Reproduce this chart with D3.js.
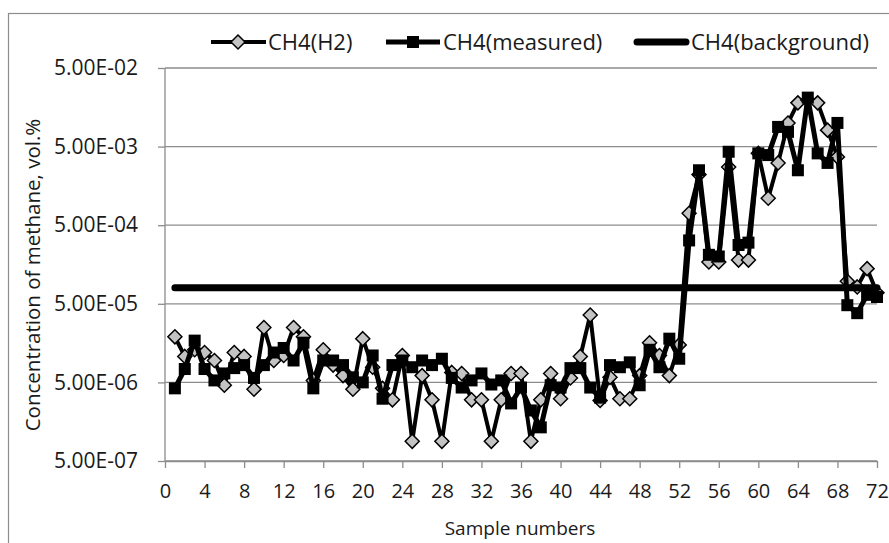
<!DOCTYPE html>
<html>
<head>
<meta charset="utf-8">
<script src="https://cdn.jsdelivr.net/npm/d3@7"></script>
<style>
  body { margin: 0; background: #fff; }
  text { font-family: "Open Sans", "Noto Sans", sans-serif; fill: #1a1a1a; }
</style>
</head>
<body>
<div id="chart"></div>
<script>
// Chart size and plot box
const width = 889;
const height = 543;
const margin = {left: 165, right: 12, top: 68, bottom: 82};

// Sample numbers 1..72
const samples = d3.range(1, 73);

// CH4 computed from H2 (diamonds)
const ch4H2 = [
  1.9e-5, 1.07e-5, 1.3e-5, 1.2e-5, 9.5e-6, 4.6e-6, 1.2e-5, 1.07e-5, 4.1e-6, 2.5e-5,
  9.5e-6, 1.1e-5, 2.5e-5, 1.9e-5, 5.3e-6, 1.3e-5, 8.3e-6, 6.1e-6, 4.1e-6, 1.8e-5,
  7.8e-6, 4.2e-6, 3.0e-6, 1.1e-5, 8.9e-7, 6.1e-6, 3.0e-6, 8.9e-7, 6.7e-6, 6.5e-6,
  3.0e-6, 3.0e-6, 8.9e-7, 3.0e-6, 6.5e-6, 6.5e-6, 8.9e-7, 3.0e-6, 6.5e-6, 3.1e-6,
  5.7e-6, 1.07e-5, 3.6e-5, 2.95e-6, 5.8e-6, 3.1e-6, 3.1e-6, 6.1e-6, 1.6e-5, 1.1e-5,
  6.1e-6, 1.5e-5, 7.1e-4, 2.2e-3, 1.7e-4, 1.7e-4, 2.75e-3, 1.8e-4, 1.8e-4, 4.1e-3,
  1.1e-3, 3.1e-3, 1.0e-2, 1.8e-2, 1.96e-2, 1.8e-2, 8.1e-3, 3.7e-3, 9.7e-5, 8.2e-5,
  1.4e-4, 6.9e-5
];

// CH4 measured (squares)
const ch4Measured = [
  4.2e-6, 7.4e-6, 1.7e-5, 7.4e-6, 5.3e-6, 6.5e-6, 7.6e-6, 8.3e-6, 5.7e-6, 8.3e-6,
  1.2e-5, 1.37e-5, 9.5e-6, 1.6e-5, 4.2e-6, 9.5e-6, 9.5e-6, 8.3e-6, 5.8e-6, 5.0e-6,
  1.1e-5, 3.1e-6, 8.3e-6, 9.5e-6, 7.8e-6, 9.5e-6, 8.3e-6, 1.0e-5, 5.7e-6, 4.3e-6,
  5.3e-6, 6.5e-6, 4.7e-6, 5.3e-6, 2.7e-6, 4.3e-6, 2.2e-6, 1.34e-6, 4.6e-6, 4.3e-6,
  7.6e-6, 7.6e-6, 4.3e-6, 3.2e-6, 8.3e-6, 7.8e-6, 9.0e-6, 4.6e-6, 1.3e-5, 7.8e-6,
  1.8e-5, 1.0e-5, 3.2e-4, 2.5e-3, 2.1e-4, 2.0e-4, 4.3e-3, 2.8e-4, 3.0e-4, 4.1e-3,
  3.9e-3, 8.9e-3, 7.7e-3, 2.5e-3, 2.1e-2, 4.1e-3, 3.1e-3, 1.0e-2, 4.8e-5, 3.8e-5,
  6.5e-5, 6.1e-5
];

// CH4 background level (constant)
const ch4Background = samples.map(() => 8.0e-5);

// Axis ticks
const xTicks = d3.range(0, 73, 4);
const yTicks = [5e-7, 5e-6, 5e-5, 5e-4, 5e-3, 5e-2];

const svg = d3.select("#chart")
  .append("svg")
  .attr("width", width)
  .attr("height", height);

// outer chart border
svg.append("rect")
  .attr("x", 8.5).attr("y", 13.5)
  .attr("width", width + 20).attr("height", height + 20)
  .attr("fill", "none")
  .attr("stroke", "#8c8c8c")
  .attr("stroke-width", 1.2);

// Scales
const xScale = d3.scaleLinear()
  .domain([0, 72])
  .range([margin.left, width - margin.right]);

const yScale = d3.scaleLog()
  .domain([5e-7, 5e-2])
  .range([height - margin.bottom, margin.top]);

// Gridlines
svg.append("g")
  .selectAll("line")
  .data(yTicks)
  .enter()
  .append("line")
    .attr("x1", xScale(0))
    .attr("x2", xScale(72))
    .attr("y1", d => yScale(d))
    .attr("y2", d => yScale(d))
    .attr("stroke", "#8c8c8c")
    .attr("stroke-width", 1.3);

// Y axis
const yAxis = svg.append("g")
  .attr("transform", `translate(${xScale(0)},0)`)
  .call(d3.axisLeft(yScale)
    .tickValues(yTicks)
    .tickSize(7)
    .tickPadding(20)
    .tickFormat(d => d3.format(".2e")(d).replace("e", "E").replace(/E([+-])(\d)$/, "E$10$2")));
yAxis.selectAll("path, line").attr("stroke", "#8c8c8c").attr("stroke-width", 1.3);
yAxis.select(".domain").attr("d", `M0,${yScale(5e-7)}V${yScale(5e-2)}`);
yAxis.selectAll("text")
  .attr("font-size", "21px")
  .attr("font-family", "'Open Sans', sans-serif")
  .attr("fill", "#1a1a1a");

// X axis
const xAxis = svg.append("g")
  .attr("transform", `translate(0,${yScale(5e-7)})`)
  .call(d3.axisBottom(xScale)
    .tickValues(xTicks)
    .tickSize(7)
    .tickPadding(16)
    .tickSizeOuter(0));
xAxis.selectAll("path, line").attr("stroke", "#8c8c8c").attr("stroke-width", 1.3);
xAxis.selectAll("text")
  .attr("font-size", "20px")
  .attr("font-family", "'Open Sans', sans-serif")
  .attr("fill", "#1a1a1a");

// Axis titles
svg.append("text")
  .attr("x", 520)
  .attr("y", 535)
  .attr("text-anchor", "middle")
  .attr("font-size", "19px")
  .text("Sample numbers");

svg.append("text")
  .attr("transform", "translate(40,275) rotate(-90)")
  .attr("text-anchor", "middle")
  .attr("font-size", "20.5px")
  .text("Concentration of methane, vol.%");

// Line generator
const line = d3.line()
  .x((d, i) => xScale(samples[i]))
  .y(d => yScale(d));

const diamond = "M0,-7L7,0L0,7L-7,0Z";

// Series 1: CH4(H2)
svg.append("path")
  .datum(ch4H2)
  .attr("d", line)
  .attr("fill", "none")
  .attr("stroke", "#000")
  .attr("stroke-width", 4)
  .attr("stroke-linejoin", "round");

svg.append("g")
  .selectAll("path")
  .data(ch4H2)
  .enter()
  .append("path")
    .attr("d", diamond)
    .attr("transform", (d, i) => `translate(${xScale(samples[i])},${yScale(d)})`)
    .attr("fill", "#c3c3c3")
    .attr("stroke", "#000")
    .attr("stroke-width", 1.5);

// Series 2: CH4(measured)
svg.append("path")
  .datum(ch4Measured)
  .attr("d", line)
  .attr("fill", "none")
  .attr("stroke", "#000")
  .attr("stroke-width", 5)
  .attr("stroke-linejoin", "round");

svg.append("g")
  .selectAll("rect")
  .data(ch4Measured)
  .enter()
  .append("rect")
    .attr("x", (d, i) => xScale(samples[i]) - 6)
    .attr("y", d => yScale(d) - 6)
    .attr("width", 12)
    .attr("height", 12)
    .attr("fill", "#000");

// Series 3: CH4(background)
svg.append("path")
  .datum(ch4Background)
  .attr("d", line)
  .attr("fill", "none")
  .attr("stroke", "#000")
  .attr("stroke-width", 7)
  .attr("stroke-linecap", "round");

// Legend
const legendY = 42;
const legend = svg.append("g");

legend.append("line")
  .attr("x1", 211).attr("x2", 266).attr("y1", legendY).attr("y2", legendY)
  .attr("stroke", "#000").attr("stroke-width", 4);
legend.append("path")
  .attr("d", diamond)
  .attr("transform", `translate(238,${legendY})`)
  .attr("fill", "#c3c3c3").attr("stroke", "#000").attr("stroke-width", 1.5);
legend.append("text")
  .attr("x", 268).attr("y", legendY + 8)
  .attr("font-size", "22px")
  .text("CH4(H2)");

legend.append("line")
  .attr("x1", 386).attr("x2", 440).attr("y1", legendY).attr("y2", legendY)
  .attr("stroke", "#000").attr("stroke-width", 5);
legend.append("rect")
  .attr("x", 407).attr("y", legendY - 6).attr("width", 12).attr("height", 12)
  .attr("fill", "#000");
legend.append("text")
  .attr("x", 443).attr("y", legendY + 8)
  .attr("font-size", "22px")
  .text("CH4(measured)");

legend.append("line")
  .attr("x1", 637).attr("x2", 686).attr("y1", legendY).attr("y2", legendY)
  .attr("stroke", "#000").attr("stroke-width", 7).attr("stroke-linecap", "round");
legend.append("text")
  .attr("x", 691).attr("y", legendY + 8)
  .attr("font-size", "22px")
  .text("CH4(background)");
</script>
</body>
</html>
